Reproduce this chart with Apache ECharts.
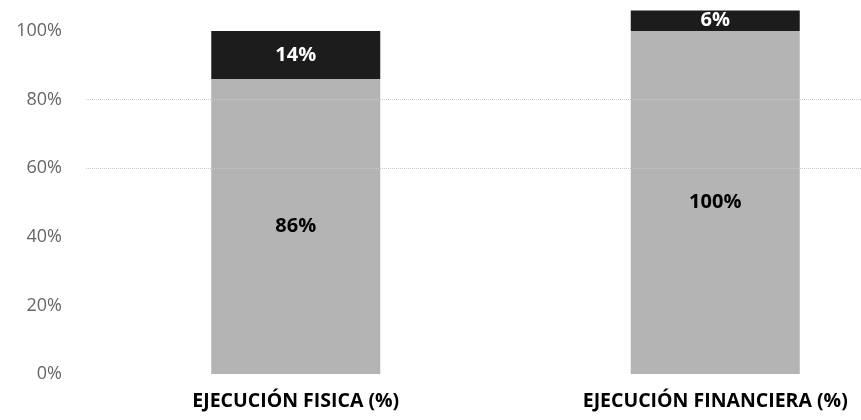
<!DOCTYPE html>
<html>
<head>
<meta charset="utf-8">
<script src="https://cdn.jsdelivr.net/npm/echarts@6/dist/echarts.min.js"></script>
<style>html,body{margin:0;padding:0;background:#fff;}#c{width:861px;height:420px;}</style>
</head>
<body>
<div id="c"></div>
<script>
var categories = ['EJECUCIÓN FISICA (%)', 'EJECUCIÓN FINANCIERA (%)'];
var baseValues = [86, 100];
var topValues = [14, 6];
var gridLineValues = [60, 80];

var chart = echarts.init(document.getElementById('c'));
chart.setOption({
  animation: false,
  backgroundColor: '#fff',
  grid: { left: 86, width: 839, top: 3.6, bottom: 46, outerBoundsMode: 'none', containLabel: false },
  xAxis: {
    type: 'category',
    data: categories,
    axisLine: { show: false },
    axisTick: { show: false },
    axisLabel: { margin: 17, color: '#000', fontWeight: 'bold', fontSize: 19.5, fontFamily: 'Open Sans' }
  },
  yAxis: {
    type: 'value',
    min: 0, max: 108, interval: 20,
    splitLine: { show: false },
    axisLine: { show: false },
    axisTick: { show: false },
    axisLabel: {
      margin: 24, color: '#666', fontSize: 18, fontFamily: 'Open Sans',
      formatter: function (v) { return v % 20 === 0 ? v + '%' : ''; }
    }
  },
  series: [
    {
      type: 'bar', stack: 's', data: baseValues, barWidth: 169,
      itemStyle: { color: '#b4b4b4' },
      label: { show: true, position: 'inside', formatter: '{c}%', color: '#000', fontWeight: 'bold', fontSize: 20, fontFamily: 'Open Sans' },
      markLine: {
        silent: true, symbol: 'none', label: { show: false },
        lineStyle: { color: '#c8c8c8', type: 'dotted', width: 1 },
        data: gridLineValues.map(function (v) { return { yAxis: v }; })
      },
      z: 2
    },
    {
      type: 'bar', stack: 's', data: topValues, barWidth: 169,
      itemStyle: { color: '#1c1c1c' },
      label: { show: true, position: 'inside', formatter: '{c}%', color: '#fff', fontWeight: 'bold', fontSize: 20, fontFamily: 'Open Sans' },
      z: 2
    }
  ]
});
</script>
</body>
</html>
